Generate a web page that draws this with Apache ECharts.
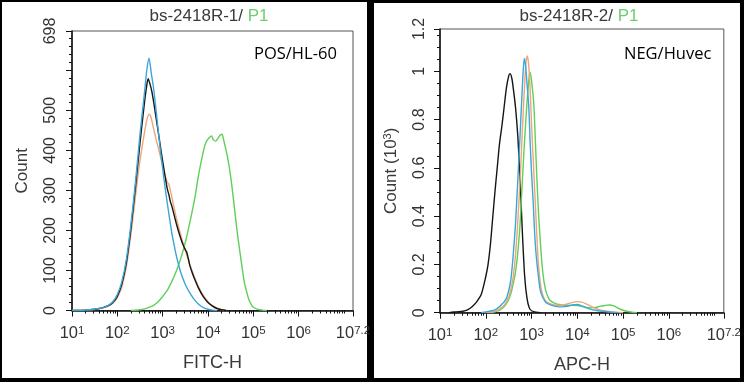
<!DOCTYPE html>
<html><head><meta charset="utf-8">
<script src="https://cdn.jsdelivr.net/npm/echarts@6/dist/echarts.min.js"></script>
<style>html,body{margin:0;padding:0;background:#000}#c{width:744px;height:382px}</style>
</head><body><div id="c"></div>
<script>
// x values are log10 of fluorescence intensity
const xMajor = [1, 2, 3, 4, 5, 6, 7.2];
const xExpLabels = ['1', '2', '3', '4', '5', '6', '7.2'];

// Left panel (POS/HL-60), counts
const posYTicks = [0, 100, 200, 300, 400, 500, 600, 698];
const posYLabels = [0, 100, 200, 300, 400, 500, 698];
const posBlue = [[1.0,0],[1.2,0],[1.4,2],[1.6,5],[1.7,8],[1.8,13],[1.9,22],[2.0,40],[2.1,72],[2.2,128],[2.3,215],[2.4,320],[2.5,440],[2.6,545],[2.65,600],[2.7,630],[2.75,592],[2.8,555],[2.85,505],[2.9,452],[2.95,400],[3.0,355],[3.05,310],[3.1,270],[3.15,232],[3.2,195],[3.25,165],[3.3,138],[3.35,115],[3.4,95],[3.5,65],[3.6,44],[3.7,27],[3.8,15],[3.9,7],[4.0,3],[4.1,1],[4.2,0]];
const posBlack = [[1.0,0],[1.3,1],[1.5,3],[1.6,5],[1.7,8],[1.8,12],[1.9,20],[2.0,36],[2.1,66],[2.2,120],[2.3,205],[2.4,308],[2.5,418],[2.6,520],[2.65,563],[2.68,579],[2.72,566],[2.76,548],[2.8,522],[2.85,485],[2.9,448],[2.95,410],[3.0,373],[3.05,338],[3.1,305],[3.14,288],[3.17,272],[3.2,262],[3.25,240],[3.3,218],[3.35,198],[3.4,180],[3.45,164],[3.5,152],[3.53,146],[3.57,128],[3.6,112],[3.65,95],[3.7,80],[3.8,54],[3.9,34],[4.0,20],[4.1,11],[4.2,5],[4.3,2],[4.4,0]];
const posOrange = [[1.0,0],[1.4,1],[1.6,4],[1.7,7],[1.8,11],[1.9,18],[2.0,32],[2.1,60],[2.2,110],[2.3,190],[2.4,285],[2.5,375],[2.6,445],[2.65,475],[2.7,490],[2.74,484],[2.78,465],[2.82,445],[2.86,425],[2.9,408],[2.95,385],[3.0,362],[3.05,338],[3.1,320],[3.13,317],[3.16,305],[3.2,285],[3.25,258],[3.3,232],[3.35,210],[3.4,188],[3.45,168],[3.5,150],[3.55,132],[3.6,115],[3.7,84],[3.8,57],[3.9,37],[4.0,22],[4.1,12],[4.2,6],[4.3,2],[4.4,0]];
const posGreen = [[2.3,0],[2.5,2],[2.6,4],[2.7,8],[2.8,13],[2.9,22],[3.0,35],[3.1,50],[3.2,72],[3.3,98],[3.4,130],[3.5,170],[3.6,220],[3.7,275],[3.8,343],[3.9,398],[3.95,418],[4.0,428],[4.05,434],[4.08,436],[4.12,426],[4.17,423],[4.22,430],[4.27,438],[4.31,440],[4.35,424],[4.4,400],[4.45,372],[4.5,335],[4.55,290],[4.6,240],[4.65,192],[4.7,150],[4.75,110],[4.8,72],[4.85,48],[4.9,28],[4.95,16],[5.0,8],[5.1,3],[5.2,1],[5.3,0]];

// Right panel (NEG/Huvec), counts in thousands
const negYTicks = [0, 0.2, 0.4, 0.6, 0.8, 1.0, 1.175];
const negYLabels = ['0', '0.2', '0.4', '0.6', '0.8', '1', '1.2'];
const negBlack = [[1.2,0],[1.3,0.003],[1.4,0.004],[1.5,0.006],[1.6,0.012],[1.7,0.025],[1.8,0.045],[1.9,0.075],[2.0,0.15],[2.05,0.2],[2.1,0.28],[2.15,0.39],[2.2,0.5],[2.25,0.6],[2.3,0.7],[2.35,0.77],[2.4,0.85],[2.45,0.93],[2.5,0.98],[2.53,0.99],[2.57,0.97],[2.6,0.93],[2.65,0.85],[2.7,0.73],[2.75,0.55],[2.8,0.33],[2.85,0.15],[2.9,0.06],[2.95,0.02],[3.0,0.008],[3.1,0.002],[3.2,0]];
const negBlue = [[1.9,0],[2.0,0.003],[2.1,0.007],[2.2,0.012],[2.3,0.025],[2.35,0.035],[2.4,0.045],[2.45,0.06],[2.5,0.09],[2.55,0.14],[2.6,0.24],[2.65,0.37],[2.7,0.55],[2.75,0.74],[2.8,0.94],[2.84,1.053],[2.87,1.02],[2.9,0.95],[2.94,0.85],[2.97,0.7],[3.0,0.58],[3.04,0.44],[3.07,0.32],[3.1,0.24],[3.15,0.15],[3.2,0.085],[3.3,0.045],[3.4,0.033],[3.5,0.027],[3.6,0.024],[3.7,0.025],[3.8,0.028],[3.9,0.032],[4.0,0.034],[4.1,0.028],[4.2,0.02],[4.3,0.014],[4.4,0.01],[4.5,0.007],[4.6,0.005],[4.7,0.003],[4.8,0.001],[4.9,0]];
const negOrange = [[2.0,0],[2.2,0.006],[2.3,0.015],[2.4,0.03],[2.5,0.065],[2.55,0.1],[2.6,0.15],[2.65,0.24],[2.7,0.38],[2.75,0.55],[2.8,0.76],[2.85,0.95],[2.88,1.04],[2.91,1.063],[2.94,1.02],[2.97,0.92],[3.0,0.78],[3.05,0.58],[3.1,0.38],[3.15,0.2],[3.2,0.11],[3.25,0.07],[3.3,0.05],[3.4,0.038],[3.5,0.032],[3.6,0.03],[3.7,0.032],[3.8,0.037],[3.9,0.043],[4.0,0.046],[4.1,0.044],[4.2,0.036],[4.3,0.026],[4.4,0.018],[4.5,0.012],[4.6,0.008],[4.7,0.005],[4.8,0.003],[4.9,0.001],[5.0,0]];
const negGreen = [[2.1,0],[2.2,0.004],[2.3,0.01],[2.4,0.025],[2.45,0.038],[2.5,0.055],[2.55,0.08],[2.6,0.12],[2.65,0.17],[2.7,0.25],[2.75,0.37],[2.8,0.55],[2.85,0.72],[2.9,0.87],[2.95,0.98],[2.97,0.995],[3.0,0.96],[3.05,0.86],[3.1,0.63],[3.15,0.42],[3.2,0.27],[3.25,0.16],[3.3,0.1],[3.35,0.07],[3.4,0.052],[3.5,0.04],[3.6,0.034],[3.7,0.031],[3.8,0.03],[3.9,0.031],[4.0,0.03],[4.1,0.026],[4.2,0.022],[4.3,0.02],[4.4,0.022],[4.5,0.027],[4.6,0.03],[4.7,0.032],[4.8,0.028],[4.9,0.018],[5.0,0.01],[5.1,0.005],[5.2,0.002],[5.3,0]];

const FONT = '"Liberation Sans", Arial, sans-serif';
const TXT = '#333';
const COL = { blue: '#3aa6d9', orange: '#eda67a', black: '#151515', green: '#5fcf5a' };

// minor tick positions (log decades 2..9, plus 10^7)
const xMinor = [];
for (let d = 1; d <= 6; d++) for (let k = 2; k <= 9; k++) xMinor.push(d + Math.log10(k));
xMinor.push(7);
function linMinor(step, max, majors) {
  const out = [];
  for (let i = 1; i * step < max; i++) {
    const v = Math.round(i * step * 1000) / 1000;
    if (!majors.some(m => Math.abs(m - v) < 1e-6)) out.push(v);
  }
  return out;
}
const posYMinor = linMinor(20, 698, posYTicks);
const negYMinor = linMinor(0.05, 1.175, negYTicks);

function xAxes(g, name, gap) {
  return [{
    type: 'value', gridIndex: g, min: 1, max: 7.2, position: 'bottom',
    name: name, nameLocation: 'middle', nameGap: gap,
    nameTextStyle: { fontSize: 18, color: '#3a3a3a', fontFamily: FONT },
    axisLine: { show: true, lineStyle: { color: '#111', width: 1.5 } },
    axisTick: { show: true, customValues: xMajor, length: 6, lineStyle: { color: '#111', width: 1 } },
    axisLabel: {
      show: true, customValues: xMajor, margin: 14,
      formatter: v => {
        const i = xMajor.findIndex(m => Math.abs(m - v) < 1e-6);
        return '{b|10}{s|' + (i >= 0 ? xExpLabels[i] : '') + '}';
      },
      rich: {
        b: { fontSize: 16.5, lineHeight: 18, color: TXT, fontFamily: FONT },
        s: { fontSize: 11.5, lineHeight: 11, verticalAlign: 'top', color: TXT, fontFamily: FONT }
      }
    },
    splitLine: { show: false }
  }, {
    type: 'value', gridIndex: g, min: 1, max: 7.2, position: 'bottom',
    axisLine: { show: false },
    axisTick: { show: true, customValues: xMinor, length: 3, lineStyle: { color: '#111', width: 1 } },
    axisLabel: { show: false }, splitLine: { show: false }
  }];
}

function yAxes(g, max, ticks, labelVals, labelFmt, name, gap, rich, margin) {
  return [{
    type: 'value', gridIndex: g, min: 0, max: max, position: 'left',
    name: name, nameLocation: 'middle', nameGap: gap,
    nameTextStyle: { fontSize: 17, color: '#3a3a3a', fontFamily: FONT, rich: rich },
    axisLine: { show: true, lineStyle: { color: '#111', width: 1.5 } },
    axisTick: { show: true, customValues: ticks, length: 6, lineStyle: { color: '#111', width: 1 } },
    axisLabel: { show: true, customValues: labelVals, rotate: 90, margin: margin, fontSize: 16, color: TXT, fontFamily: FONT, formatter: labelFmt },
    splitLine: { show: false }
  }, {
    type: 'value', gridIndex: g, min: 0, max: max, position: 'left',
    axisLine: { show: false },
    axisTick: { show: true, customValues: g === 0 ? posYMinor : negYMinor, length: 3, lineStyle: { color: '#111', width: 1 } },
    axisLabel: { show: false }, splitLine: { show: false }
  }];
}

function line(data, color, xi, yi, z) {
  return { type: 'line', data: data, xAxisIndex: xi, yAxisIndex: yi, showSymbol: false, smooth: 0.25,
    lineStyle: { color: color, width: 1.4 }, z: z, silent: true, clip: true };
}

const chart = echarts.init(document.getElementById('c'), null, { renderer: 'canvas' });
chart.setOption({
  animation: false,
  backgroundColor: '#000',
  grid: [
    { left: 72, top: 31, width: 281, height: 279.5, show: true, borderColor: '#555', borderWidth: 1, backgroundColor: '#fff' },
    { left: 440, top: 29, width: 284, height: 283.7, show: true, borderColor: '#555', borderWidth: 1, backgroundColor: '#fff' }
  ],
  xAxis: [...xAxes(0, 'FITC-H', 44), ...xAxes(1, 'APC-H', 43)],
  yAxis: [
    ...yAxes(0, 698, posYTicks, posYLabels, v => String(v), 'Count', 41, null, 13),
    ...yAxes(1, 1.175, negYTicks, negYTicks, v => {
      const i = negYTicks.findIndex(m => Math.abs(m - v) < 1e-6);
      return i >= 0 ? negYLabels[i] : '';
    }, '{n|Count (10}{s|3}{n|)}', 40, {
      n: { fontSize: 17, color: '#3a3a3a', fontFamily: FONT, lineHeight: 18 },
      s: { fontSize: 11, color: '#3a3a3a', fontFamily: FONT, lineHeight: 11, verticalAlign: 'top' }
    }, 12)
  ],
  series: [
    line(posGreen, COL.green, 0, 0, 2),
    line(posOrange, COL.orange, 0, 0, 3),
    line(posBlack, COL.black, 0, 0, 4),
    line(posBlue, COL.blue, 0, 0, 5),
    line(negBlack, COL.black, 2, 2, 2),
    line(negGreen, COL.green, 2, 2, 3),
    line(negOrange, COL.orange, 2, 2, 4),
    line(negBlue, COL.blue, 2, 2, 5)
  ],
  graphic: [
    { type: 'rect', z: -100, shape: { x: 2, y: 2, width: 365, height: 376 }, style: { fill: '#fff' } },
    { type: 'rect', z: -100, shape: { x: 374, y: 3, width: 366, height: 375 }, style: { fill: '#fff' } },
    { type: 'text', z: 100, style: { x: 209, y: 16, align: 'center', verticalAlign: 'middle',
        text: '{a|bs-2418R-1/ }{g|P1}',
        rich: { a: { fontSize: 17, fill: '#3a3a3a', fontFamily: FONT }, g: { fontSize: 17, fill: '#6ccf6c', fontFamily: FONT } } } },
    { type: 'text', z: 100, style: { x: 579, y: 16, align: 'center', verticalAlign: 'middle',
        text: '{a|bs-2418R-2/ }{g|P1}',
        rich: { a: { fontSize: 17, fill: '#3a3a3a', fontFamily: FONT }, g: { fontSize: 17, fill: '#6ccf6c', fontFamily: FONT } } } },
    { type: 'text', z: 100, style: { x: 254, y: 54, align: 'left', verticalAlign: 'middle', text: 'POS/HL-60',
        font: '16.5px "Open Sans", sans-serif', fill: '#000' } },
    { type: 'text', z: 100, style: { x: 624, y: 54, align: 'left', verticalAlign: 'middle', text: 'NEG/Huvec',
        font: '16.5px "Open Sans", sans-serif', fill: '#000' } }
  ]
});
</script></body></html>
